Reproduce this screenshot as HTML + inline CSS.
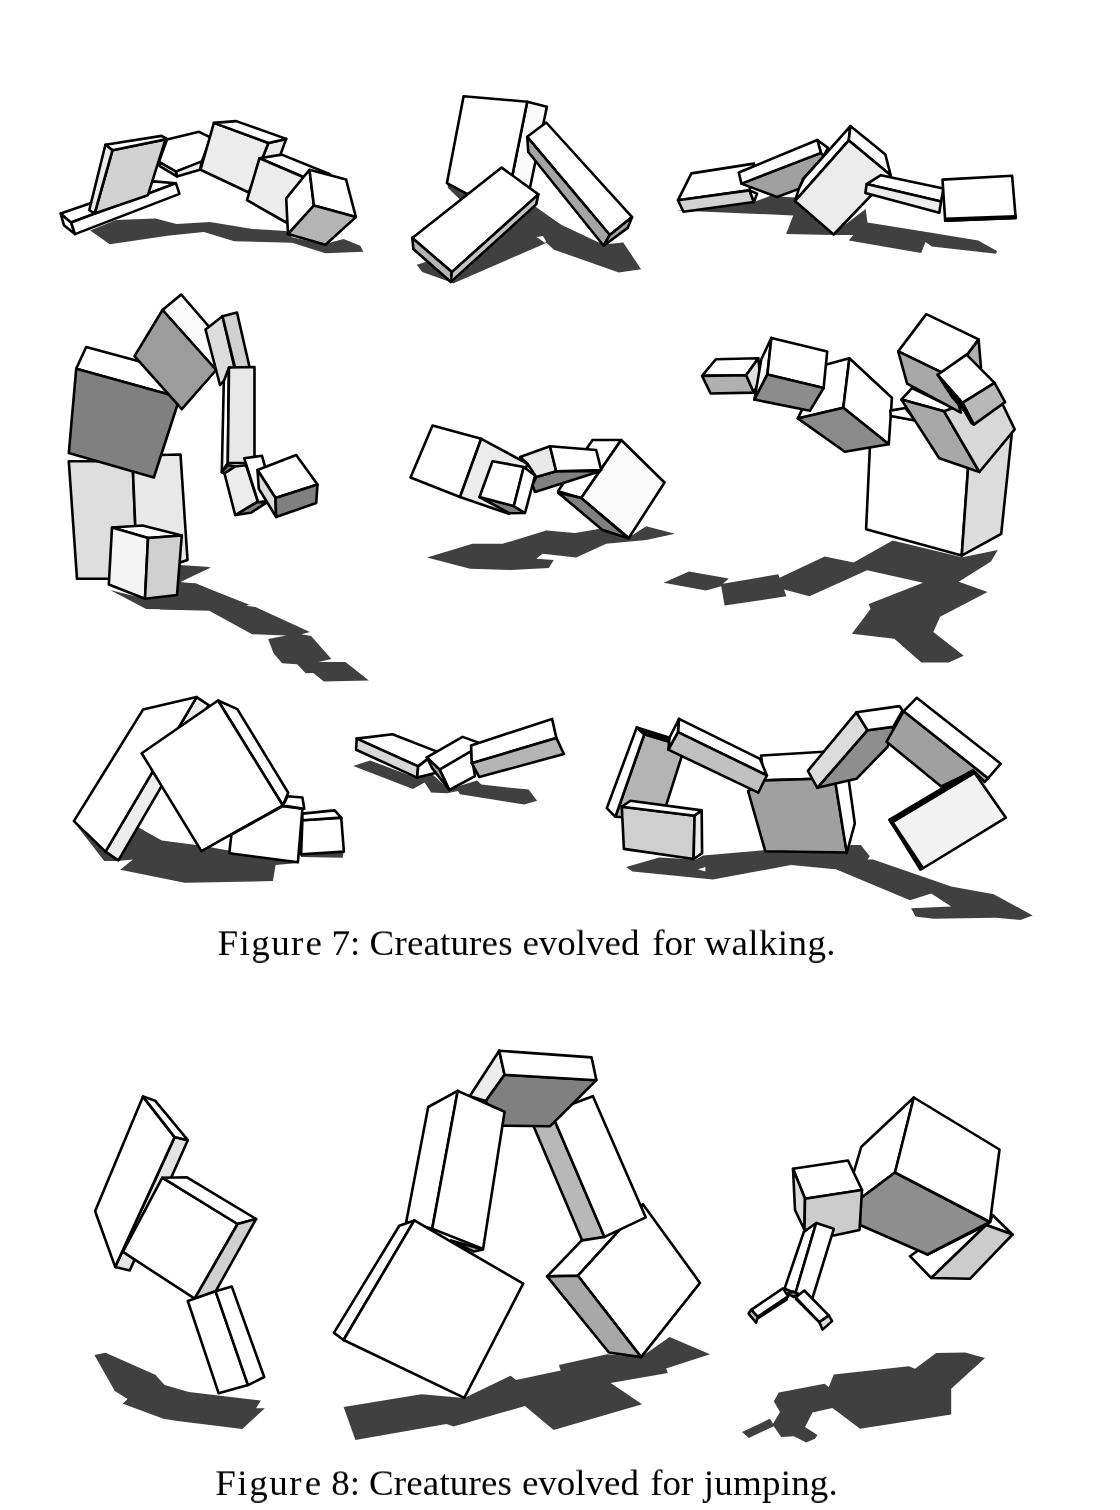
<!DOCTYPE html>
<html><head><meta charset="utf-8"><title>Figure 7 and 8</title>
<style>
html,body{margin:0;padding:0;background:#fff;}
body{width:1120px;height:1510px;position:relative;overflow:hidden;font-family:"Liberation Serif",serif;}
svg{position:absolute;left:0;top:0;}
svg polygon,svg polyline{stroke-linejoin:round;stroke-linecap:round;}
.cap{position:absolute;left:0;width:1120px;height:37px;white-space:nowrap;font-size:37px;color:#000;line-height:1;}
.cap{transform:scaleY(0.945);transform-origin:0 31px;will-change:transform;}
.cap span{position:absolute;top:0;}
.cap i{font-style:normal;letter-spacing:0;}
</style></head><body>
<svg width="1120" height="1510" viewBox="0 0 1120 1510">
<polygon points="90.1,230.5 115.9,219.9 155.4,218.4 176.6,223.9 210.0,222.0 252.5,229.0 285.9,231.1 292.0,237.2 323.8,244.2 343.6,239.0 360.3,245.7 363.3,251.8 325.4,253.3 292.0,242.7 234.3,241.2 203.9,232.1 167.5,235.7 109.8,244.2" fill="#404040"/>
<polygon points="60.7,213.6 71.1,222.5 75.0,234.1 63.9,225.2" fill="#ffffff" stroke="#000" stroke-width="2.6"/>
<polygon points="60.7,213.6 153.6,181.4 175.9,183.2 71.1,222.5" fill="#ffffff" stroke="#000" stroke-width="2.6"/>
<polygon points="71.1,222.5 175.9,183.2 179.5,193.9 75.0,234.1" fill="#ffffff" stroke="#000" stroke-width="2.6"/>
<polygon points="167.0,139.5 199.1,131.8 210.7,137.7 201.8,161.8 175.9,171.6 158.9,161.8" fill="#ffffff" stroke="#000" stroke-width="2.6"/>
<polygon points="175.9,171.6 201.8,161.4 200.0,169.8 176.8,176.4" fill="#ececec" stroke="#000" stroke-width="2.6"/>
<polygon points="158.9,161.8 175.9,171.6 176.8,176.4 159.8,166.2" fill="#ececec" stroke="#000" stroke-width="2.6"/>
<polygon points="112.5,150.2 165.4,139.6 147.9,195.2 94.6,213.6" fill="#d2d2d2" stroke="#000" stroke-width="2.6"/>
<polygon points="105.4,144.8 161.6,135.9 167.0,138.9 112.5,150.2" fill="#ffffff" stroke="#000" stroke-width="2.6"/>
<polygon points="105.4,144.8 112.5,150.2 94.6,213.6 89.3,210.0" fill="#ececec" stroke="#000" stroke-width="2.6"/>
<polygon points="268.4,143.0 286.2,138.9 269.3,185.0 248.8,192.5" fill="#ececec" stroke="#000" stroke-width="2.6"/>
<polygon points="213.9,122.9 268.4,143.0 248.8,192.5 200.5,169.8" fill="#ececec" stroke="#000" stroke-width="2.6"/>
<polygon points="213.9,122.9 236.2,121.1 286.2,138.9 268.4,143.0" fill="#ffffff" stroke="#000" stroke-width="2.6"/>
<polygon points="259.5,158.2 281.8,154.6 330.0,174.3 303.2,177.0" fill="#ffffff" stroke="#000" stroke-width="2.6"/>
<polygon points="259.5,158.2 303.2,177.0 286.2,222.5 247.0,200.2" fill="#ececec" stroke="#000" stroke-width="2.6"/>
<polygon points="309.5,169.8 313.9,205.5 288.0,234.1 286.2,198.4" fill="#ffffff" stroke="#000" stroke-width="2.6"/>
<polygon points="309.5,169.8 346.1,179.6 355.9,217.1 313.9,205.5" fill="#ffffff" stroke="#000" stroke-width="2.6"/>
<polygon points="313.9,205.5 355.9,217.1 325.5,244.8 288.0,234.1" fill="#b4b4b4" stroke="#000" stroke-width="2.6"/>
<polygon points="416.7,264.7 429.0,260.9 533.9,205.5 560.7,224.5 546.2,243.0 453.6,283.2 450.2,281.9 422.3,272.1" fill="#404040"/>
<polygon points="533.9,208.2 560.7,224.5 603.1,244.6 623.2,242.4 641.1,269.2 618.8,272.5 554.0,249.7 546.2,242.4 542.9,236.8 536.2,236.3 525.0,218.9" fill="#404040"/>
<polygon points="447.3,183.2 467.0,193.9 473.7,196.6 460.3,200.0 448.0,188.1" fill="#404040"/>
<polygon points="536.6,237.0 542.9,236.1 546.4,241.7 545.1,243.0" fill="#ffffff"/>
<polygon points="527.2,101.7 546.9,106.7 529.5,189.9 509.4,189.9" fill="#fafafa" stroke="#000" stroke-width="2.6"/>
<polygon points="463.6,96.2 527.2,101.7 509.4,189.9 467.0,193.9 446.9,183.2" fill="#ffffff" stroke="#000" stroke-width="2.6"/>
<polygon points="527.2,136.8 546.2,122.5 632.1,217.1 609.8,235.0" fill="#ffffff" stroke="#000" stroke-width="2.6"/>
<polygon points="527.2,136.8 609.8,235.0 603.6,245.7 528.3,152.0" fill="#a4a4a4" stroke="#000" stroke-width="2.6"/>
<polygon points="609.8,235.0 632.1,217.1 627.7,227.9 603.6,245.7" fill="#a4a4a4" stroke="#000" stroke-width="2.6"/>
<polygon points="501.6,167.6 538.4,194.4 451.8,272.1 412.3,237.9" fill="#ffffff" stroke="#000" stroke-width="2.6"/>
<polygon points="412.3,237.9 451.8,272.1 450.9,281.9 413.4,249.1" fill="#b4b4b4" stroke="#000" stroke-width="2.6"/>
<polygon points="451.8,272.1 538.4,194.4 536.2,204.4 450.9,281.9" fill="#c4c4c4" stroke="#000" stroke-width="2.6"/>
<polygon points="677.1,210.4 753.9,202.0 770.0,196.1 795.0,197.5 795.0,201.1 833.4,233.6 865.7,209.1 867.5,222.5 928.2,232.3 978.2,240.4 997.0,251.1 996.1,253.8 931.8,246.6 925.5,242.1 921.1,252.9 848.8,240.4 853.2,235.0 833.4,235.0 786.1,234.1 793.2,215.4" fill="#404040"/>
<polygon points="691.4,173.4 753.9,163.6 749.5,190.4 678.0,200.2" fill="#ffffff" stroke="#000" stroke-width="2.6"/>
<polygon points="678.0,200.2 749.5,190.4 753.9,202.0 683.4,211.8" fill="#d2d2d2" stroke="#000" stroke-width="2.6"/>
<polygon points="749.5,190.4 757.1,193.6 753.9,202.0" fill="#ffffff" stroke="#000" stroke-width="2.6"/>
<polygon points="741.4,183.6 820.9,152.9 823.9,156.1 803.0,178.8 799.5,188.6 777.1,197.0" fill="#a0a0a0" stroke="#000" stroke-width="2.6"/>
<polygon points="817.3,140.0 828.0,147.9 823.9,155.5 820.9,152.9" fill="#ffffff" stroke="#000" stroke-width="2.6"/>
<polygon points="738.8,172.5 817.3,140.0 820.9,152.9 741.4,183.6" fill="#ffffff" stroke="#000" stroke-width="2.6"/>
<polygon points="850.4,126.1 848.8,140.4 795.0,201.1 798.9,188.6 803.9,178.4" fill="#ffffff" stroke="#000" stroke-width="2.6"/>
<polygon points="850.4,126.1 885.4,154.6 890.7,175.2 848.8,140.4" fill="#ffffff" stroke="#000" stroke-width="2.6"/>
<polygon points="848.8,140.4 890.7,175.2 833.6,234.5 795.0,201.1" fill="#ececec" stroke="#000" stroke-width="2.6"/>
<polygon points="866.6,184.1 880.9,175.2 943.4,188.6 941.1,201.4" fill="#ffffff" stroke="#000" stroke-width="2.6"/>
<polygon points="866.6,184.1 941.1,201.4 939.3,212.7 865.4,193.0" fill="#ececec" stroke="#000" stroke-width="2.6"/>
<polygon points="942.5,179.6 1012.1,175.7 1015.7,218.0 945.2,220.7" fill="#ffffff" stroke="#000" stroke-width="2.6"/>
<polygon points="945.2,218.9 1015.7,216.4 1015.7,218.0 945.2,220.7" fill="#000" stroke="#000" stroke-width="2.6"/>
<polygon points="180.4,565.7 211.0,567.4 180.4,581.8 179.3,583.9 195.4,583.3 247.9,606.0 255.4,606.9 310.0,632.1 301.4,634.3 311.1,636.0 331.4,658.9 318.6,662.1 345.4,662.1 368.9,680.4 323.9,681.4 313.2,672.9 305.7,673.3 297.1,664.3 282.1,663.2 275.7,655.7 273.6,653.6 268.2,639.0 286.4,635.4 252.1,634.3 209.3,610.7 160.0,609.6 160.0,597.9 176.1,594.6" fill="#404040"/>
<polygon points="179.5,565.0 210.0,567.0 180.5,582.0 196.2,583.8 250.0,605.0 207.5,610.0 146.2,609.0 110.0,590.0 145.0,598.8 177.0,595.0" fill="#404040"/>
<polygon points="68.8,461.2 132.5,461.2 137.5,578.8 77.0,578.8" fill="#dedede" stroke="#000" stroke-width="2.6"/>
<polygon points="132.5,460.0 160.0,455.0 180.5,454.5 187.5,560.0 180.0,562.5 137.5,578.8" fill="#e8e8e8" stroke="#000" stroke-width="2.6"/>
<polygon points="112.0,527.5 142.5,525.5 181.8,535.5 148.0,538.0" fill="#ffffff" stroke="#000" stroke-width="2.6"/>
<polygon points="112.0,527.5 148.0,538.0 145.0,598.8 108.8,584.5" fill="#f4f4f4" stroke="#000" stroke-width="2.6"/>
<polygon points="148.0,538.0 181.8,535.5 177.0,595.0 145.0,598.8" fill="#d0d0d0" stroke="#000" stroke-width="2.6"/>
<polygon points="86.2,347.0 185.0,373.8 179.8,397.5 76.2,368.8" fill="#ffffff" stroke="#000" stroke-width="2.6"/>
<polygon points="76.2,368.8 179.8,397.5 153.8,477.5 68.8,453.0" fill="#808080" stroke="#000" stroke-width="2.6"/>
<polygon points="162.5,310.0 181.2,294.5 232.5,353.8 216.2,370.0" fill="#fafafa" stroke="#000" stroke-width="2.6"/>
<polygon points="162.5,310.0 216.2,370.0 181.8,409.2 134.5,356.2" fill="#9c9c9c" stroke="#000" stroke-width="2.6"/>
<polygon points="205.5,329.5 222.5,316.2 235.0,370.0 220.0,385.0" fill="#dcdcdc" stroke="#000" stroke-width="2.6"/>
<polygon points="222.5,316.2 237.0,312.5 249.5,367.0 235.0,367.5" fill="#d0d0d0" stroke="#000" stroke-width="2.6"/>
<polygon points="223.8,381.2 229.0,367.5 227.8,463.0 221.8,472.2" fill="#ffffff" stroke="#000" stroke-width="2.6"/>
<polygon points="229.0,367.5 254.5,367.0 254.5,463.0 227.8,463.0" fill="#e8e8e8" stroke="#000" stroke-width="2.6"/>
<polygon points="221.8,472.2 227.8,465.0 235.0,466.5 224.5,473.5" fill="#707070" stroke="#000" stroke-width="2.6"/>
<polygon points="235.2,515.0 257.8,501.5 265.8,503.2 250.8,512.8" fill="#808080" stroke="#000" stroke-width="2.6"/>
<polygon points="224.5,473.5 235.2,466.5 246.0,465.2 257.8,501.5 235.2,515.0" fill="#ececec" stroke="#000" stroke-width="2.6"/>
<polygon points="244.2,458.2 262.0,455.8 274.2,500.0 258.2,502.2" fill="#ffffff" stroke="#000" stroke-width="2.6"/>
<polygon points="257.5,470.0 296.2,455.0 317.5,484.5 275.5,498.0" fill="#ffffff" stroke="#000" stroke-width="2.6"/>
<polygon points="257.5,470.0 275.5,498.0 276.2,517.0 258.8,488.8" fill="#dcdcdc" stroke="#000" stroke-width="2.6"/>
<polygon points="275.5,498.0 317.5,484.5 316.2,503.0 276.2,517.0" fill="#808080" stroke="#000" stroke-width="2.6"/>
<polygon points="427.0,557.5 472.5,543.8 502.5,543.8 546.2,530.5 575.0,533.0 600.0,528.8 628.8,537.5 646.2,526.2 675.0,533.8 646.2,540.0 606.2,543.8 576.2,557.5 542.5,553.8 536.2,558.8 553.8,560.0 548.8,568.0 511.2,570.0 470.0,568.8" fill="#404040"/>
<polygon points="592.5,440.0 621.2,440.0 581.2,498.0 558.0,491.2" fill="#ffffff" stroke="#000" stroke-width="2.6"/>
<polygon points="621.2,440.0 664.5,482.5 628.8,538.0 581.2,498.0" fill="#fafafa" stroke="#000" stroke-width="2.6"/>
<polygon points="558.2,492.8 581.2,498.0 628.2,538.2 602.2,529.8" fill="#808080" stroke="#000" stroke-width="2.6"/>
<polygon points="536.2,477.0 556.2,471.2 600.0,471.2 535.0,492.0 532.5,485.0" fill="#808080" stroke="#000" stroke-width="2.6"/>
<polygon points="520.0,457.0 550.0,446.2 556.2,471.2 536.2,477.0 527.5,463.8" fill="#e8e8e8" stroke="#000" stroke-width="2.6"/>
<polygon points="550.0,446.2 596.2,450.0 601.2,470.0 556.2,471.2" fill="#ffffff" stroke="#000" stroke-width="2.6"/>
<polygon points="432.5,425.5 481.2,438.8 460.0,497.0 410.5,477.5" fill="#ffffff" stroke="#000" stroke-width="2.6"/>
<polygon points="481.2,438.8 527.5,463.8 508.8,513.8 460.0,497.0" fill="#ececec" stroke="#000" stroke-width="2.6"/>
<polygon points="479.5,497.0 513.8,506.0 524.5,513.0 509.2,513.2" fill="#808080" stroke="#000" stroke-width="2.6"/>
<polygon points="492.5,461.2 523.8,467.0 513.8,506.0 479.5,497.0" fill="#ffffff" stroke="#000" stroke-width="2.6"/>
<polygon points="523.8,467.0 535.0,475.5 525.0,513.0 513.8,506.0" fill="#ffffff" stroke="#000" stroke-width="2.6"/>
<polygon points="663.6,582.8 689.0,571.6 728.7,578.4 722.9,583.8 778.2,574.3 779.6,577.7 824.7,556.6 853.6,562.4 892.6,540.4 962.1,557.3 997.8,549.9 991.0,561.4 958.8,581.8 987.6,591.9 940.1,616.7 933.3,632.0 963.8,655.7 948.6,662.5 921.4,662.5 894.3,638.8 851.9,633.7 870.5,608.9 868.8,604.1 923.1,582.8 867.1,570.2 809.5,596.3 784.0,589.6 786.4,596.3 724.6,605.5 721.2,586.2 706.0,590.6" fill="#404040"/>
<polygon points="871.5,412.3 970.8,430.5 961.7,555.6 866.1,529.2" fill="#ffffff" stroke="#000" stroke-width="2.6"/>
<polygon points="970.8,430.5 1011.8,433.6 1001.2,533.8 961.7,555.6" fill="#dcdcdc" stroke="#000" stroke-width="2.6"/>
<polygon points="715.8,359.2 758.3,358.3 746.2,375.3 702.1,375.9" fill="#ffffff" stroke="#000" stroke-width="2.6"/>
<polygon points="702.1,375.9 746.2,375.3 753.8,392.6 710.6,393.5" fill="#b0b0b0" stroke="#000" stroke-width="2.6"/>
<polygon points="746.2,375.3 758.3,358.3 760.4,378.9 753.8,392.6" fill="#e0e0e0" stroke="#000" stroke-width="2.6"/>
<polygon points="823.6,365.3 849.4,358.3 843.3,407.8 797.8,418.4" fill="#ffffff" stroke="#000" stroke-width="2.6"/>
<polygon points="849.4,358.3 891.9,397.8 888.8,444.2 843.3,407.8" fill="#ffffff" stroke="#000" stroke-width="2.6"/>
<polygon points="797.8,418.4 843.3,407.8 888.8,444.2 844.8,451.8" fill="#8a8a8a" stroke="#000" stroke-width="2.6"/>
<polygon points="771.4,337.9 767.4,374.4 754.4,399.6 761.3,359.2" fill="#ffffff" stroke="#000" stroke-width="2.6"/>
<polygon points="771.4,337.9 827.2,351.6 823.6,388.0 767.4,374.4" fill="#ffffff" stroke="#000" stroke-width="2.6"/>
<polygon points="767.4,374.4 823.6,388.0 809.9,410.8 754.4,399.6" fill="#8c8c8c" stroke="#000" stroke-width="2.6"/>
<polygon points="890.2,410.6 905.4,408.0 915.1,420.5 891.0,416.0" fill="#ffffff" stroke="#000" stroke-width="2.6"/>
<polygon points="901.4,399.6 911.9,388.1 956.1,409.3 944.0,411.2" fill="#ffffff" stroke="#000" stroke-width="2.6"/>
<polygon points="901.4,399.6 944.0,411.2 979.4,472.0 939.2,458.3" fill="#a8a8a8" stroke="#000" stroke-width="2.6"/>
<polygon points="944.0,411.2 962.5,404.5 1002.7,404.5 1014.7,429.4 979.4,472.0" fill="#d8d8d8" stroke="#000" stroke-width="2.6"/>
<polygon points="978.6,339.4 981.0,367.5 952.9,404.5 950.4,376.7" fill="#b0b0b0" stroke="#000" stroke-width="2.6"/>
<polygon points="926.3,314.1 978.6,339.4 950.4,376.7 898.2,351.4" fill="#ffffff" stroke="#000" stroke-width="2.6"/>
<polygon points="898.2,351.4 950.4,376.7 960.9,412.5 956.1,410.1 907.1,383.6" fill="#a8a8a8" stroke="#000" stroke-width="2.6"/>
<polygon points="937.6,374.7 962.5,402.9 966.5,413.3 952.9,398.0" fill="#000" stroke="#000" stroke-width="2.6"/>
<polygon points="937.6,374.7 966.5,354.6 994.6,382.8 962.5,402.9" fill="#ffffff" stroke="#000" stroke-width="2.6"/>
<polygon points="962.5,402.9 994.6,382.8 1005.1,402.1 973.8,424.6" fill="#b8b8b8" stroke="#000" stroke-width="2.6"/>
<polygon points="962.5,402.9 973.8,424.6 971.3,422.9 960.9,404.5" fill="#000" stroke="#000" stroke-width="2.6"/>
<polygon points="137.7,827.0 161.8,840.4 202.0,845.7 231.4,851.1 298.4,863.1 275.6,865.0 272.9,881.1 184.6,882.7 120.3,869.8 132.9,859.6 117.6,861.0 104.2,861.0 74.7,822.9 105.5,851.1" fill="#404040"/>
<polygon points="299.7,853.2 343.9,851.1 342.6,857.8 301.1,857.0" fill="#404040"/>
<polygon points="196.6,697.1 208.7,705.1 118.4,860.4 105.5,851.6" fill="#ececec" stroke="#000" stroke-width="2.6"/>
<polygon points="143.0,709.6 196.6,697.1 105.5,851.6 73.9,821.1" fill="#ffffff" stroke="#000" stroke-width="2.6"/>
<polygon points="218.0,700.5 237.3,709.1 288.2,792.7 282.9,805.5" fill="#ffffff" stroke="#000" stroke-width="2.6"/>
<polygon points="218.0,700.5 282.9,805.5 201.4,851.1 141.7,753.3" fill="#ffffff" stroke="#000" stroke-width="2.6"/>
<polygon points="282.9,806.1 302.4,808.8 297.9,862.3 229.3,853.2 231.4,834.5" fill="#ffffff" stroke="#000" stroke-width="2.6"/>
<polygon points="287.7,796.2 302.4,797.5 304.3,808.8 282.9,805.5" fill="#ffffff" stroke="#000" stroke-width="2.6"/>
<polygon points="302.4,820.3 341.2,817.6 343.9,851.6 301.1,854.3" fill="#ffffff" stroke="#000" stroke-width="2.6"/>
<polygon points="302.4,813.6 334.6,810.4 341.2,817.6 302.4,820.3" fill="#ffffff" stroke="#000" stroke-width="2.6"/>
<polygon points="353.3,766.0 370.0,760.4 417.1,778.2 432.1,773.9 449.3,790.0 460.0,785.7 477.1,780.4 481.4,784.6 528.6,789.6 537.1,800.7 524.3,804.6 460.0,794.3 457.9,791.1 447.1,793.2 431.1,792.6 424.6,782.5 412.9,788.9" fill="#404040"/>
<polygon points="356.7,738.6 392.5,734.3 436.4,751.4 418.2,766.4" fill="#ffffff" stroke="#000" stroke-width="2.6"/>
<polygon points="356.7,738.6 418.2,766.4 417.1,777.6 356.1,749.7" fill="#d8d8d8" stroke="#000" stroke-width="2.6"/>
<polygon points="418.2,766.4 436.4,752.5 435.4,772.9 417.1,777.6" fill="#ffffff" stroke="#000" stroke-width="2.6"/>
<polygon points="426.8,757.4 462.6,736.9 479.3,742.9 470.7,752.5 439.6,769.6" fill="#ffffff" stroke="#000" stroke-width="2.6"/>
<polygon points="439.6,769.6 470.7,751.4 475.0,776.1 449.3,790.0" fill="#ffffff" stroke="#000" stroke-width="2.6"/>
<polygon points="426.8,757.4 439.6,769.6 449.3,790.0 432.1,768.1" fill="#a0a0a0" stroke="#000" stroke-width="2.6"/>
<polygon points="471.1,745.4 552.1,718.9 556.4,738.1 471.8,763.2" fill="#ffffff" stroke="#000" stroke-width="2.6"/>
<polygon points="471.8,763.2 556.4,738.1 563.9,754.0 479.3,777.1" fill="#b4b4b4" stroke="#000" stroke-width="2.6"/>
<polygon points="626.1,867.1 659.3,857.5 695.7,859.6 703.2,855.4 766.4,850.0 835.0,853.2 835.0,869.3 791.1,865.0 712.9,879.6 632.5,871.4" fill="#404040"/>
<polygon points="697.9,869.3 705.4,867.1 705.4,871.4" fill="#ffffff"/>
<polygon points="795.0,854.1 846.3,852.5 850.8,845.1 860.8,845.1 869.8,856.3 867.5,859.6 873.1,859.6 951.2,886.4 993.7,894.2 1032.7,915.4 1020.4,919.9 995.9,917.7 933.4,918.8 915.5,916.6 911.1,908.3 951.2,906.5 931.2,893.6 910.0,900.3 834.1,868.6 795.0,863.7" fill="#404040"/>
<polygon points="761.1,755.6 823.6,751.8 834.7,778.2 764.2,780.4" fill="#ffffff" stroke="#000" stroke-width="2.6"/>
<polygon points="764.2,780.4 834.7,778.2 846.8,852.5 765.3,851.2 748.1,791.1" fill="#a0a0a0" stroke="#000" stroke-width="2.6"/>
<polygon points="834.7,778.2 848.6,779.3 854.8,823.5 846.8,852.9" fill="#ffffff" stroke="#000" stroke-width="2.6"/>
<polygon points="644.3,734.3 685.0,746.1 661.4,820.0 615.4,816.8" fill="#b4b4b4" stroke="#000" stroke-width="2.6"/>
<polygon points="636.8,727.4 644.3,734.3 615.4,816.8 606.8,808.2" fill="#ffffff" stroke="#000" stroke-width="2.6"/>
<polygon points="636.8,727.4 668.9,737.5 668.9,741.8 644.3,734.3" fill="#000" stroke="#000" stroke-width="2.6"/>
<polygon points="679.0,718.9 760.0,758.9 766.9,775.4 677.9,732.1" fill="#ffffff" stroke="#000" stroke-width="2.6"/>
<polygon points="677.9,732.1 766.9,775.4 758.3,792.6 668.3,749.7" fill="#c0c0c0" stroke="#000" stroke-width="2.6"/>
<polygon points="679.0,718.9 677.9,732.1 668.3,749.7 669.6,737.5" fill="#ffffff" stroke="#000" stroke-width="2.6"/>
<polygon points="621.8,806.7 694.6,815.7 693.6,859.0 623.9,848.9" fill="#cfcfcf" stroke="#000" stroke-width="2.6"/>
<polygon points="621.8,806.7 630.4,800.7 701.7,810.4 694.6,815.7" fill="#ffffff" stroke="#000" stroke-width="2.6"/>
<polygon points="694.6,815.7 701.7,810.4 702.1,853.2 693.6,859.0" fill="#ececec" stroke="#000" stroke-width="2.6"/>
<polygon points="867.5,730.2 894.3,726.8 887.6,746.9 856.4,778.8 817.3,787.8" fill="#8e8e8e" stroke="#000" stroke-width="2.6"/>
<polygon points="856.4,712.3 867.5,730.2 817.3,787.8 807.9,770.8" fill="#dcdcdc" stroke="#000" stroke-width="2.6"/>
<polygon points="856.4,712.3 899.5,706.1 902.6,710.5 893.2,726.8 867.5,730.2" fill="#ffffff" stroke="#000" stroke-width="2.6"/>
<polygon points="903.7,711.2 988.1,778.2 984.7,782.0 973.6,770.8 941.2,786.4 886.5,741.8" fill="#a0a0a0" stroke="#000" stroke-width="2.6"/>
<polygon points="916.7,697.8 1000.8,763.7 988.1,778.2 903.7,711.2" fill="#ffffff" stroke="#000" stroke-width="2.6"/>
<polygon points="973.6,771.5 1005.9,817.7 921.8,869.0 889.9,820.6" fill="#f2f2f2" stroke="#000" stroke-width="2.6"/>
<polygon points="889.6,819.7 972.9,770.1 974.7,773.0 892.5,822.1" fill="#000" stroke="#000" stroke-width="2.6"/>
<polygon points="889.6,819.7 892.5,822.1 922.9,867.9 920.4,869.5" fill="#000" stroke="#000" stroke-width="2.6"/>
<polygon points="94.4,1355.0 105.5,1352.7 155.3,1374.7 164.6,1385.1 188.9,1392.1 260.8,1400.6 256.1,1408.3 264.9,1408.3 242.2,1429.1 177.3,1421.0 163.4,1418.7 122.9,1403.7 127.5,1399.0 114.8,1390.9" fill="#404040"/>
<polygon points="174.6,1137.1 187.8,1140.2 129.8,1270.4 115.2,1266.9" fill="#e4e4e4" stroke="#000" stroke-width="2.6"/>
<polygon points="143.0,1096.6 174.6,1137.1 115.2,1266.9 95.1,1211.3" fill="#ffffff" stroke="#000" stroke-width="2.6"/>
<polygon points="143.0,1096.6 155.3,1100.8 187.8,1140.2 174.6,1137.1" fill="#ffffff" stroke="#000" stroke-width="2.6"/>
<polygon points="162.3,1177.7 237.6,1224.0 194.7,1298.7 122.9,1251.9" fill="#ffffff" stroke="#000" stroke-width="2.6"/>
<polygon points="162.3,1177.7 186.6,1177.2 256.1,1219.0 237.6,1224.0" fill="#ffffff" stroke="#000" stroke-width="2.6"/>
<polygon points="237.6,1224.0 256.1,1219.0 215.6,1291.3 194.7,1298.7" fill="#d0d0d0" stroke="#000" stroke-width="2.6"/>
<polygon points="187.8,1301.0 215.6,1291.3 248.0,1385.1 218.6,1393.2" fill="#ffffff" stroke="#000" stroke-width="2.6"/>
<polygon points="215.6,1291.3 231.8,1286.6 264.2,1377.0 248.0,1385.1" fill="#ffffff" stroke="#000" stroke-width="2.6"/>
<polygon points="343.6,1407.1 421.4,1394.3 464.3,1397.9 510.7,1375.7 516.1,1380.0 560.7,1370.4 558.9,1365.0 607.1,1354.3 641.1,1357.1 669.6,1337.1 710.0,1354.3 666.1,1368.6 667.9,1372.9 610.7,1382.9 642.1,1404.3 553.6,1430.0 525.0,1406.1 453.6,1426.4 446.4,1423.9 355.4,1440.0" fill="#404040"/>
<polygon points="547.1,1276.4 583.9,1238.2 642.9,1204.3 577.9,1275.7" fill="#ffffff" stroke="#000" stroke-width="2.6"/>
<polygon points="577.9,1275.7 642.9,1204.3 700.0,1282.9 641.1,1357.1" fill="#ffffff" stroke="#000" stroke-width="2.6"/>
<polygon points="547.1,1276.4 577.9,1275.7 641.1,1357.1 608.9,1352.5" fill="#a8a8a8" stroke="#000" stroke-width="2.6"/>
<polygon points="530.0,1117.7 550.9,1111.8 604.5,1236.9 582.2,1240.4" fill="#b8b8b8" stroke="#000" stroke-width="2.6"/>
<polygon points="550.9,1111.8 592.9,1096.2 645.7,1217.3 604.5,1236.9" fill="#ffffff" stroke="#000" stroke-width="2.6"/>
<polygon points="499.2,1050.7 504.6,1074.8 485.8,1101.1 469.7,1096.2" fill="#ececec" stroke="#000" stroke-width="2.6"/>
<polygon points="504.6,1074.8 596.4,1080.2 550.1,1126.2 501.9,1125.7 485.8,1101.1" fill="#808080" stroke="#000" stroke-width="2.6"/>
<polygon points="499.2,1050.7 591.6,1057.4 596.4,1080.2 504.6,1074.8" fill="#ffffff" stroke="#000" stroke-width="2.6"/>
<polygon points="451.0,1240.4 483.1,1249.5 473.8,1251.6" fill="#a0a0a0" stroke="#000" stroke-width="2.6"/>
<polygon points="428.2,1107.0 457.7,1090.9 432.2,1228.8 406.2,1222.1" fill="#ffffff" stroke="#000" stroke-width="2.6"/>
<polygon points="457.7,1090.9 504.6,1111.8 483.1,1248.9 432.2,1228.8" fill="#ffffff" stroke="#000" stroke-width="2.6"/>
<polygon points="399.3,1225.7 414.3,1220.4 343.6,1340.0 333.9,1332.9" fill="#ffffff" stroke="#000" stroke-width="2.6"/>
<polygon points="414.3,1220.4 523.2,1283.6 464.3,1397.9 343.6,1340.0" fill="#ffffff" stroke="#000" stroke-width="2.6"/>
<polygon points="742.0,1432.0 770.0,1418.8 773.0,1423.8 780.0,1412.0 773.8,1401.2 778.8,1392.5 824.5,1383.8 828.8,1387.0 833.8,1374.5 908.8,1366.2 915.0,1368.8 936.2,1353.0 965.0,1352.5 985.0,1358.0 951.2,1388.8 951.2,1414.5 860.0,1428.8 832.5,1408.0 812.5,1412.5 805.0,1427.0 817.5,1435.0 815.0,1438.8 806.2,1442.5 793.8,1436.2 781.2,1437.0 773.8,1426.2 748.8,1438.0" fill="#404040"/>
<polygon points="990.0,1222.0 992.5,1215.0 1012.5,1234.5 986.2,1225.0" fill="#ffffff" stroke="#000" stroke-width="2.6"/>
<polygon points="910.0,1256.2 918.8,1250.0 927.5,1254.5 986.2,1225.0 931.2,1278.0" fill="#ffffff" stroke="#000" stroke-width="2.6"/>
<polygon points="986.2,1225.0 1012.5,1234.5 970.0,1278.8 931.2,1278.0" fill="#cccccc" stroke="#000" stroke-width="2.6"/>
<polygon points="913.8,1097.5 895.0,1172.5 860.0,1198.8 850.0,1185.0 861.2,1147.0" fill="#ffffff" stroke="#000" stroke-width="2.6"/>
<polygon points="895.0,1172.5 990.0,1222.0 927.5,1254.5 860.0,1225.0 860.0,1198.8" fill="#8e8e8e" stroke="#000" stroke-width="2.6"/>
<polygon points="913.8,1097.5 999.5,1149.5 990.0,1222.0 895.0,1172.5" fill="#ffffff" stroke="#000" stroke-width="2.6"/>
<polygon points="793.0,1168.8 848.0,1160.5 862.0,1190.0 805.0,1198.8" fill="#ffffff" stroke="#000" stroke-width="2.6"/>
<polygon points="793.0,1168.8 805.0,1198.8 804.5,1230.0 795.0,1210.0" fill="#dcdcdc" stroke="#000" stroke-width="2.6"/>
<polygon points="805.0,1198.8 862.0,1190.0 859.5,1230.0 833.8,1235.5 804.5,1229.5" fill="#cccccc" stroke="#000" stroke-width="2.6"/>
<polygon points="803.8,1232.0 816.2,1223.0 795.5,1293.0 784.5,1288.8" fill="#ffffff" stroke="#000" stroke-width="2.6"/>
<polygon points="816.2,1223.0 833.8,1228.8 812.5,1298.0 795.5,1293.0" fill="#ffffff" stroke="#000" stroke-width="2.6"/>
<polygon points="787.1,1293.2 793.6,1291.6 798.9,1294.3 793.6,1297.0" fill="#707070" stroke="#000" stroke-width="2.6"/>
<polygon points="788.2,1297.0 758.2,1317.3 756.9,1320.5 787.9,1300.2" fill="#000"/>
<polygon points="782.9,1288.4 788.2,1296.4 757.7,1316.8 751.2,1309.8" fill="#ffffff" stroke="#000" stroke-width="2.6"/>
<polygon points="751.2,1309.8 757.7,1316.8 756.1,1322.7 748.6,1313.6" fill="#c8c8c8" stroke="#000" stroke-width="2.6"/>
<polygon points="795.9,1297.7 819.5,1322.1 820.9,1325.4 794.6,1299.4" fill="#000"/>
<polygon points="804.3,1290.5 828.9,1315.7 819.3,1322.1 795.7,1297.5" fill="#ffffff" stroke="#000" stroke-width="2.6"/>
<polygon points="819.3,1322.1 828.9,1315.7 832.1,1321.1 822.5,1329.6" fill="#dcdcdc" stroke="#000" stroke-width="2.6"/>
</svg>
<div class="cap" style="top:923.6px;"><span style="left:217.6px;letter-spacing:1.4px">Figur<i style="margin-left:0.8px">e</i></span> <span style="left:331.4px">7:</span> <span style="left:369.6px;letter-spacing:0.15px">Creatures</span> <span style="left:522.4px">evolved</span> <span style="left:652.3px">for</span> <span style="left:704.3px;letter-spacing:0.4px">walking.</span></div>
<div class="cap" style="top:1463.9px;"><span style="left:215.3px;letter-spacing:1.5px">Figur<i style="margin-left:1.7px">e</i></span> <span style="left:331.3px">8:</span> <span style="left:369px;letter-spacing:0.15px">Creatures</span> <span style="left:521.9px">evolved</span> <span style="left:650.3px">for</span> <span style="left:703.8px;letter-spacing:0.2px">jumping.</span></div>
</body></html>
